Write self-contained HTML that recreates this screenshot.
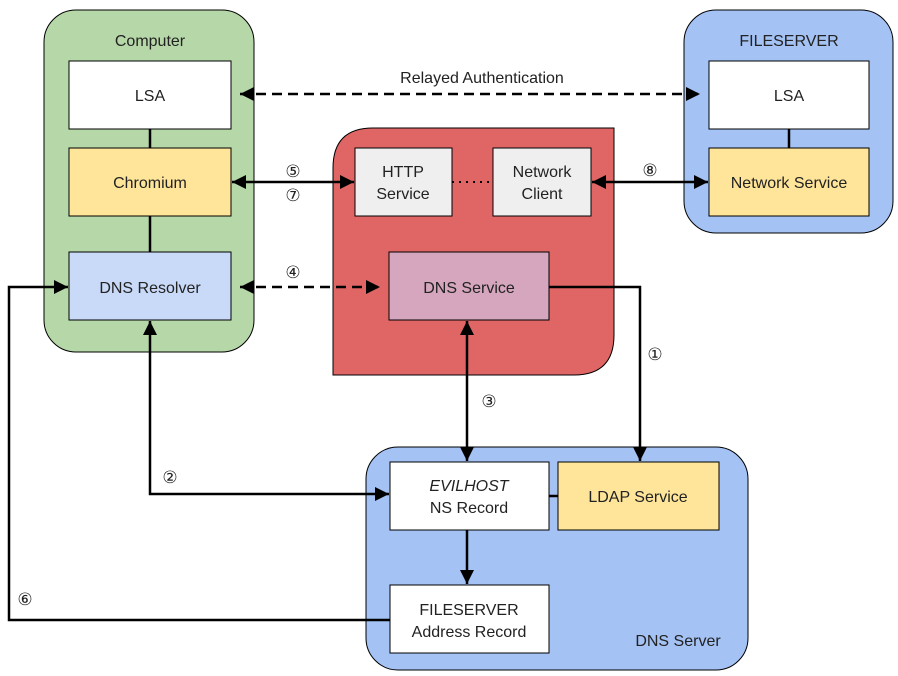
<!DOCTYPE html>
<html><head><style>body{margin:0;background:#fff}svg{display:block}text{font-family:"Liberation Sans",Arial,sans-serif;font-size:16px;fill:#222}text.n{font-family:"DejaVu Sans",sans-serif;font-size:17px}</style></head><body>
<svg width="898" height="676" viewBox="0 0 898 676" xmlns="http://www.w3.org/2000/svg">
<defs>
<marker id="b" viewBox="0 0 10 10" refX="10" refY="5" markerWidth="14" markerHeight="14" orient="auto-start-reverse" markerUnits="userSpaceOnUse"><path d="M0,0L10,5L0,10z" fill="#000"/></marker>
</defs>
<g stroke="#000" stroke-width="1">
<rect x="44" y="10" width="210" height="342" rx="32" fill="#b6d7a8"/>
<rect x="684" y="10" width="209" height="223" rx="32" fill="#a4c2f4"/>
<path d="M373,128H614V335Q614,375 574,375H333V168Q333,128 373,128Z" fill="#e06666"/>
<rect x="366" y="447" width="382" height="223" rx="32" fill="#a4c2f4"/>
</g>
<g stroke="#000" stroke-width="2.5" fill="none">
<line x1="150" y1="129" x2="150" y2="148"/>
<line x1="150" y1="216" x2="150" y2="252"/>
<line x1="789" y1="129" x2="789" y2="148"/>
<line x1="549" y1="496" x2="558" y2="496"/>
<line x1="240" y1="94" x2="700" y2="94" stroke-dasharray="10,6" marker-start="url(#b)" marker-end="url(#b)"/>
<line x1="232" y1="182" x2="354" y2="182" marker-start="url(#b)" marker-end="url(#b)"/>
<line x1="592" y1="182" x2="708" y2="182" marker-start="url(#b)" marker-end="url(#b)"/>
<line x1="240" y1="287" x2="380" y2="287" stroke-dasharray="10,6" marker-start="url(#b)" marker-end="url(#b)"/>
<path d="M549,287H640V461" marker-end="url(#b)"/>
<line x1="467" y1="321" x2="467" y2="461" marker-start="url(#b)" marker-end="url(#b)"/>
<path d="M150,321V494H389" marker-start="url(#b)" marker-end="url(#b)"/>
<path d="M390,620H9V287H68" marker-end="url(#b)"/>
<line x1="467" y1="530" x2="467" y2="584" marker-end="url(#b)"/>
</g>
<line x1="452" y1="182" x2="493" y2="182" stroke="#000" stroke-width="2" stroke-dasharray="2,5"/>
<g stroke="#000" stroke-width="1">
<rect x="69" y="61" width="162" height="68" fill="#fff"/>
<rect x="69" y="148" width="162" height="68" fill="#ffe599"/>
<rect x="69" y="252" width="162" height="68" fill="#c9daf8"/>
<rect x="709" y="61" width="160" height="68" fill="#fff"/>
<rect x="709" y="148" width="160" height="68" fill="#ffe599"/>
<rect x="355" y="148" width="97" height="68" fill="#efefef"/>
<rect x="493" y="148" width="98" height="68" fill="#efefef"/>
<rect x="389" y="252" width="160" height="68" fill="#d5a6bd"/>
<rect x="390" y="462" width="159" height="68" fill="#fff"/>
<rect x="558" y="462" width="161" height="68" fill="#ffe599"/>
<rect x="390" y="585" width="159" height="68" fill="#fff"/>
</g>
<g text-anchor="middle">
<text x="150" y="46">Computer</text>
<text x="789" y="46">FILESERVER</text>
<text x="150" y="101">LSA</text>
<text x="150" y="188">Chromium</text>
<text x="150" y="293">DNS Resolver</text>
<text x="789" y="101">LSA</text>
<text x="789" y="188">Network Service</text>
<text x="403" y="177">HTTP</text><text x="403" y="199">Service</text>
<text x="542" y="177">Network</text><text x="542" y="199">Client</text>
<text x="469" y="293">DNS Service</text>
<text x="469" y="491" font-style="italic">EVILHOST</text><text x="469" y="513">NS Record</text>
<text x="638" y="502">LDAP Service</text>
<text x="469" y="615">FILESERVER</text><text x="469" y="637">Address Record</text>
<text x="678" y="646">DNS Server</text>
<text x="482" y="83">Relayed Authentication</text>
<text class="n" x="293" y="177">⑤</text><text class="n" x="293" y="201">⑦</text>
<text class="n" x="650" y="176">⑧</text>
<text class="n" x="293" y="278">④</text>
<text class="n" x="655" y="360">①</text>
<text class="n" x="489" y="407">③</text>
<text class="n" x="170" y="483">②</text>
<text class="n" x="25" y="605">⑥</text>
</g>
</svg>
</body></html>
